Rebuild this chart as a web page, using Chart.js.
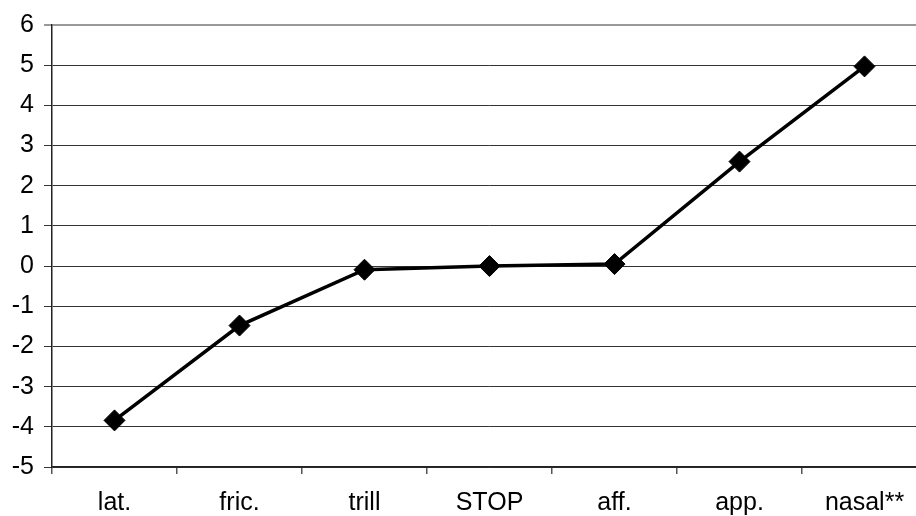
<!DOCTYPE html>
<html>
<head>
<meta charset="utf-8">
<script src="https://cdn.jsdelivr.net/npm/chart.js@4.4.1/dist/chart.umd.min.js"></script>
<style>
  html, body { margin: 0; padding: 0; background: #fff; overflow: hidden; }
  #wrap { position: absolute; left: 0; top: 0; width: 940px; height: 516px; }
</style>
</head>
<body>
<div id="wrap"><canvas id="lineChart"></canvas></div>
<script>
const categories = ["lat.", "fric.", "trill", "STOP", "aff.", "app.", "nasal**"];
const values = [-3.84, -1.48, -0.09, 0, 0.05, 2.6, 4.97];
const yMin = -5;
const yMax = 6;

Chart.defaults.font.family = "'Liberation Sans', Arial, sans-serif";
Chart.defaults.color = "#000";

function initChart() {
  const ctx = document.getElementById("lineChart");
  if (!ctx) return;

  new Chart(ctx, {
    type: "line",
    data: {
      labels: categories,
      datasets: [
        {
          data: values,
          borderColor: "#000",
          borderWidth: 3.5,
          tension: 0,
          pointStyle: "rectRot",
          pointRadius: 10.5,
          pointBackgroundColor: "#000",
          pointBorderColor: "#000",
          pointBorderWidth: 1,
        },
      ],
    },
    options: {
      responsive: true,
      maintainAspectRatio: false,
      animation: false,
      layout: { padding: { left: 0, right: 13, top: 24, bottom: 0 } },
      scales: {
        x: {
          offset: true,
          grid: {
            offset: true,
            drawOnChartArea: false,
            drawTicks: true,
            tickLength: 7,
            color: "#555",
            lineWidth: 1.5,
          },
          border: { color: "#222", width: 1.5 },
          ticks: { font: { size: 25 }, padding: 14, maxRotation: 0 },
          afterFit: (scale) => { scale.height = 49; },
        },
        y: {
          min: yMin,
          max: yMax,
          ticks: { stepSize: 1, font: { size: 25 }, padding: 10 },
          grid: {
            tickLength: 8,
            color: (c) => (c.tick && c.tick.value === yMax ? "#999" : "#333"),
            lineWidth: (c) => (c.tick && c.tick.value === yMax ? 2 : 1),
          },
          border: { color: "#222", width: 1.5 },
          afterFit: (scale) => { scale.width = 52; },
        },
      },
      plugins: {
        legend: { display: false },
        tooltip: { enabled: false },
      },
    },
  });
}

document.addEventListener("DOMContentLoaded", initChart);
</script>
</body>
</html>
